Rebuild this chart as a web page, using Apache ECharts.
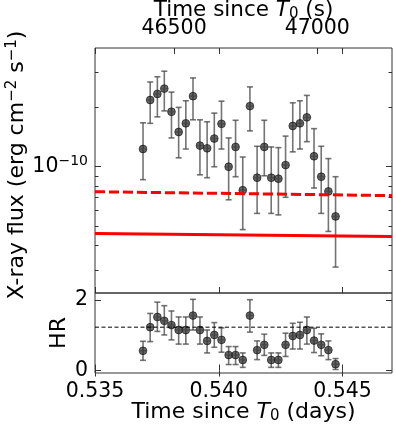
<!DOCTYPE html>
<html>
<head>
<meta charset="utf-8">
<script src="https://cdn.jsdelivr.net/npm/echarts@6/dist/echarts.min.js"></script>
<style>
  html, body { margin: 0; padding: 0; background: #fff; }
  #chart { width: 396px; height: 428px; }
</style>
</head>
<body>
<div id="chart"></div>
<script>
// time bins (days since T0)
var days = [0.53694, 0.53723, 0.53752, 0.53780, 0.53809, 0.53838, 0.53867, 0.53896, 0.53924, 0.53953,
            0.53982, 0.54011, 0.54040, 0.54068, 0.54097, 0.54126, 0.54155, 0.54184, 0.54212, 0.54241,
            0.54270, 0.54299, 0.54328, 0.54356, 0.54385, 0.54414, 0.54443, 0.54472];
var flux = [1.23e-10, 2.18e-10, 2.34e-10, 2.49e-10, 1.90e-10, 1.50e-10, 1.66e-10, 2.28e-10, 1.28e-10, 1.24e-10,
            1.39e-10, 1.65e-10, 1.00e-10, 1.26e-10, 7.6e-11, 2.03e-10, 8.8e-11, 1.26e-10, 8.8e-11, 8.7e-11,
            1.02e-10, 1.61e-10, 1.66e-10, 1.78e-10, 1.13e-10, 8.9e-11, 7.5e-11, 5.6e-11];
var fluxLo = [8.6e-11, 1.66e-10, 1.79e-10, 1.92e-10, 1.40e-10, 1.11e-10, 1.23e-10, 1.73e-10, 9.1e-11, 8.8e-11,
              1.00e-10, 1.23e-10, 6.8e-11, 8.9e-11, 4.8e-11, 1.52e-10, 5.8e-11, 9.0e-11, 5.8e-11, 5.7e-11,
              7.0e-11, 1.19e-10, 1.23e-10, 1.34e-10, 7.8e-11, 5.8e-11, 4.7e-11, 3.1e-11];
var fluxHi = [1.67e-10, 2.69e-10, 2.86e-10, 3.05e-10, 2.39e-10, 2.00e-10, 2.16e-10, 2.82e-10, 1.73e-10, 1.69e-10,
              1.87e-10, 2.15e-10, 1.40e-10, 1.72e-10, 1.12e-10, 2.54e-10, 1.27e-10, 1.72e-10, 1.26e-10, 1.25e-10,
              1.43e-10, 2.11e-10, 2.16e-10, 2.30e-10, 1.56e-10, 1.27e-10, 1.10e-10, 8.9e-11];
var hr = [0.56, 1.23, 1.52, 1.41, 1.29, 1.15, 1.15, 1.56, 1.15, 0.84, 1.01, 0.87, 0.44, 0.44, 0.30,
          1.56, 0.58, 0.73, 0.30, 0.30, 0.73, 0.98, 1.01, 1.15, 0.85, 0.73, 0.58, 0.18];
var hrLo = [0.29, 0.82, 1.11, 1.01, 0.87, 0.75, 0.75, 1.15, 0.75, 0.50, 0.66, 0.52, 0.17, 0.17, 0.09,
            1.09, 0.31, 0.43, 0.09, 0.09, 0.40, 0.61, 0.61, 0.75, 0.51, 0.42, 0.31, 0.03];
var hrHi = [0.83, 1.62, 1.94, 1.84, 1.69, 1.52, 1.52, 2.02, 1.52, 1.15, 1.36, 1.21, 0.68, 0.68, 0.50,
            2.01, 0.84, 1.03, 0.50, 0.50, 1.06, 1.34, 1.37, 1.52, 1.20, 1.04, 0.84, 0.34];

// model curves (two end points each)
var modelDays = [0.535, 0.547];
var modelDashed = [7.47e-11, 7.14e-11];
var modelSolid = [4.59e-11, 4.43e-11];
var hrRef = 1.23;

// ticks
var dayTicks = [0.535, 0.540, 0.545];
var secTicks = [46500, 47000];
var fluxMajor = [1e-10];
var fluxMinor = [3e-11, 4e-11, 5e-11, 6e-11, 7e-11, 8e-11, 9e-11, 2e-10, 3e-10];
var hrTicks = [0, 2];

var halfBin = 0.000144; // half of a 25 s bin, in days
var font = 'DejaVu Sans';
var frame = '#333';
var tickSize = 20.5;
var secInDays = secTicks.map(function(s) { return s / 86400; });

var chart = echarts.init(document.getElementById('chart'), null, { renderer: 'canvas' });

function zip(a, b) { return a.map(function(v, i) { return [v, b[i]]; }); }
function rows(v, lo, hi) { return days.map(function(t, i) { return [t, v[i], lo[i], hi[i]]; }); }

function errRender(params, api) {
  var t = api.value(0);
  var p = api.coord([t, api.value(1)]);
  var lo = api.coord([t, api.value(2)]);
  var hi = api.coord([t, api.value(3)]);
  var xl = api.coord([t - halfBin, api.value(1)]);
  var xr = api.coord([t + halfBin, api.value(1)]);
  var bar = { stroke: 'rgba(70,70,70,0.75)', lineWidth: 1.6 };
  return {
    type: 'group',
    children: [
      { type: 'line', shape: { x1: p[0], y1: lo[1], x2: p[0], y2: hi[1] }, style: bar },
      { type: 'line', shape: { x1: p[0] - 3, y1: lo[1], x2: p[0] + 3, y2: lo[1] }, style: bar },
      { type: 'line', shape: { x1: p[0] - 3, y1: hi[1], x2: p[0] + 3, y2: hi[1] }, style: bar },
      { type: 'circle', shape: { cx: p[0], cy: p[1], r: 3.9 },
        style: { fill: 'rgba(40,40,40,0.7)', stroke: 'rgba(0,0,0,0.55)', lineWidth: 1 } },
      { type: 'line', shape: { x1: xl[0], y1: p[1], x2: xr[0], y2: p[1] }, style: bar }
    ]
  };
}

function richSet(size) {
  return {
    n: { fontSize: size, fontFamily: font, color: '#000', lineHeight: 24 },
    it: { fontSize: size, fontFamily: font, fontStyle: 'italic', color: '#000', lineHeight: 24 },
    sup: { fontSize: Math.round(size * 0.7), fontFamily: font, color: '#000', verticalAlign: 'top', lineHeight: 17 },
    sub: { fontSize: Math.round(size * 0.7), fontFamily: font, color: '#000', verticalAlign: 'bottom', lineHeight: 15 }
  };
}

function xAx(grid, pos, ticks, extra) {
  return Object.assign({
    type: 'value', gridIndex: grid, position: pos, min: 0.535, max: 0.547,
    axisLine: { show: false }, splitLine: { show: false }, nameMoveOverlap: false,
    axisTick: { show: true, inside: true, length: 6, customValues: ticks, lineStyle: { color: frame } },
    axisLabel: { show: false }
  }, extra || {});
}
function yLog(pos, ticks, len, extra) {
  return Object.assign({
    type: 'log', gridIndex: 0, position: pos, min: 2.29e-11, max: 4e-10, logBase: 10,
    axisLine: { show: false }, splitLine: { show: false }, minorTick: { show: false }, nameMoveOverlap: false,
    axisTick: { show: true, inside: true, length: len, customValues: ticks, lineStyle: { color: frame } },
    axisLabel: { show: false }
  }, extra || {});
}
function yHr(pos, extra) {
  return Object.assign({
    type: 'value', gridIndex: 1, position: pos, min: -0.07, max: 2.2,
    axisLine: { show: false }, splitLine: { show: false }, nameMoveOverlap: false,
    axisTick: { show: true, inside: true, length: 6, customValues: hrTicks, lineStyle: { color: frame } },
    axisLabel: { show: false }
  }, extra || {});
}

chart.setOption({
  animation: false,
  backgroundColor: '#fff',
  grid: [
    { left: 95, right: 4, top: 48, height: 245, outerBoundsMode: 'none', containLabel: false,
      show: true, borderColor: frame, borderWidth: 1, backgroundColor: 'transparent' },
    { left: 95, right: 4, top: 293, height: 80, outerBoundsMode: 'none', containLabel: false,
      show: true, borderColor: frame, borderWidth: 1, backgroundColor: 'transparent' }
  ],
  xAxis: [
    xAx(0, 'bottom', dayTicks),
    xAx(0, 'top', dayTicks.concat(secInDays), {
      axisLabel: {
        show: true, customValues: secInDays, margin: 9, fontSize: tickSize, fontFamily: font, color: '#000',
        formatter: function(v) { return String(Math.round(v * 86400)); }
      },
      name: '{n|Time since }{it|T}{sub|0}{n| (s)}', nameLocation: 'middle', nameGap: 26,
      nameTextStyle: { rich: richSet(21.5) }
    }),
    xAx(1, 'bottom', dayTicks, {
      axisLabel: {
        show: true, customValues: dayTicks, margin: 8, fontSize: tickSize, fontFamily: font, color: '#000',
        formatter: function(v) { return v.toFixed(3); }
      },
      name: '{n|Time since }{it|T}{sub|0}{n| (days)}', nameLocation: 'middle', nameGap: 27,
      nameTextStyle: { rich: richSet(22) }
    }),
    xAx(1, 'top', dayTicks)
  ],
  yAxis: [
    yLog('left', fluxMajor, 6, {
      axisLabel: {
        show: true, customValues: fluxMajor, margin: 7,
        formatter: function() { return '{n|10}{sup|−10}'; },
        rich: richSet(tickSize)
      },
      name: '{n|X-ray flux (erg cm}{sup|−2}{n| s}{sup|−1}{n|)}', nameLocation: 'middle', nameGap: 66,
      nameTextStyle: { rich: richSet(22), padding: [0, 0, 0, 11] }
    }),
    yLog('left', fluxMinor, 3.5),
    yLog('right', fluxMajor, 6),
    yLog('right', fluxMinor, 3.5),
    yHr('left', {
      axisLabel: { show: true, customValues: hrTicks, margin: 7, fontSize: tickSize, fontFamily: font, color: '#000' },
      name: 'HR', nameLocation: 'middle', nameGap: 24,
      nameTextStyle: { fontSize: 22, fontFamily: font, color: '#000', lineHeight: 24 }
    }),
    yHr('right')
  ],
  series: [
    {
      type: 'custom', xAxisIndex: 0, yAxisIndex: 0, z: 2,
      renderItem: errRender, data: rows(flux, fluxLo, fluxHi)
    },
    {
      type: 'line', xAxisIndex: 0, yAxisIndex: 0, z: 3, symbol: 'none',
      lineStyle: { color: '#ff0000', width: 3, type: [10, 4] },
      data: zip(modelDays, modelDashed)
    },
    {
      type: 'line', xAxisIndex: 0, yAxisIndex: 0, z: 3, symbol: 'none',
      lineStyle: { color: '#ff0000', width: 3 },
      data: zip(modelDays, modelSolid)
    },
    {
      type: 'custom', xAxisIndex: 2, yAxisIndex: 4, z: 2,
      renderItem: errRender, data: rows(hr, hrLo, hrHi)
    },
    {
      type: 'line', xAxisIndex: 2, yAxisIndex: 4, z: 3, symbol: 'none',
      lineStyle: { color: '#000', width: 1, type: [4, 2.5] },
      data: zip(modelDays, [hrRef, hrRef])
    }
  ]
});
window.addEventListener('resize', function() { chart.resize(); });
</script>
</body>
</html>
